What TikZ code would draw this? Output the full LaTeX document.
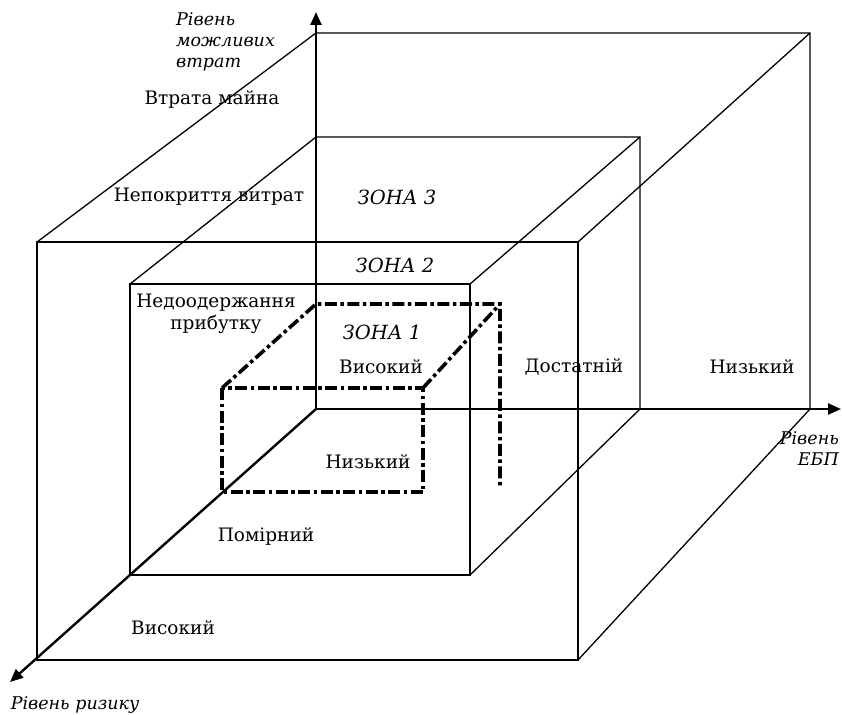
\documentclass[tikz,border=0pt]{standalone}
\usepackage{fontspec}
\setmainfont{DejaVu Serif}
\usetikzlibrary{arrows.meta}

\begin{document}
\begin{tikzpicture}[x=1pt,y=-1pt,
  box/.style={line width=1.3pt},
  axis/.style={line width=2.4pt,-{Triangle[length=13pt,width=11pt]}},
  zone/.style={line width=3.6pt,dash pattern=on 12pt off 3.5pt on 3.5pt off 3.5pt},
  lbl/.style={inner sep=0pt,font=\fontsize{18.5}{22}\selectfont},
  axlbl/.style={inner sep=0pt,font=\fontsize{17.5}{21}\selectfont\itshape},
  zonelbl/.style={inner sep=0pt,font=\fontsize{19.5}{22}\selectfont\itshape}]
\useasboundingbox (0,0) rectangle (842,714);
\coordinate (O) at (316,409);

 \draw[box] (37,242) rectangle (578,660);
 \draw[box] (37,242)--(316,33)--(810,33)--(810,409);
 \draw[box] (578,242)--(810,33);
 \draw[box] (578,660)--(810,409);

 \draw[box] (130,284) rectangle (470,575);
 \draw[box] (130,284)--(316,137)--(640,137)--(640,409);
 \draw[box] (470,284)--(640,137);
 \draw[box] (470,575)--(640,409);

 \draw[zone] (222,388) rectangle (423,492);
 \draw[zone] (222,388)--(316,304)--(500,304)--(500,487);
 \draw[zone] (423,388)--(500,304);

  \draw[axis] (O)--(316,12);
  \draw[axis] (O)--(841,409);
  \draw[axis] (O)--(10,682);

 \node[axlbl,align=left,anchor=west] (loss) at (176,42) {Рівень\\можливих\\втрат};
 \node[axlbl,align=right,anchor=east] (ebp) at (839,449) {Рівень\\ЕБП};
 \node[axlbl] (risk) at (75,705) {Рівень ризику};

 \node[lbl] (prop) at (212,100) {Втрата майна};
 \node[lbl] (cost) at (209,197) {Непокриття витрат};
 \node[lbl,align=center] (profit) at (216,314) {Недоодержання\\прибутку};
 \node[zonelbl] (z3) at (397,197) {ЗОНА 3};
 \node[zonelbl] (z2) at (395,265) {ЗОНА 2};
 \node[zonelbl] (z1) at (382,332) {ЗОНА 1};

 \node[lbl] (ebphigh) at (381,367) {Високий};
 \node[lbl] (ebpmid) at (574,367) {Достатній};
 \node[lbl] (ebplow) at (752,367) {Низький};
 \node[lbl] (risklow) at (368,462) {Низький};
 \node[lbl] (riskmid) at (266,537) {Помірний};
 \node[lbl] (riskhigh) at (173,628) {Високий};
 \end{tikzpicture}
\end{document}
